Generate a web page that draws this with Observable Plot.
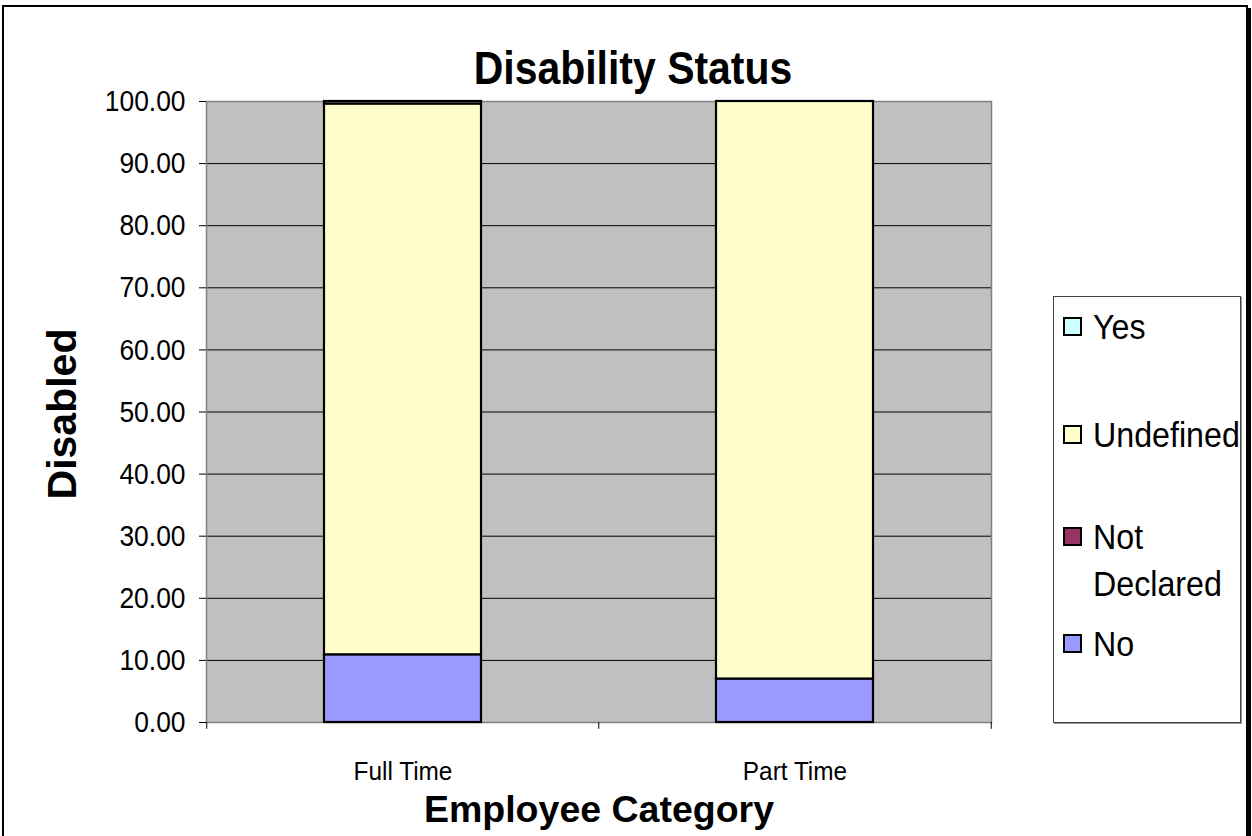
<!DOCTYPE html>
<html>
<head>
<meta charset="utf-8">
<script src="https://cdn.jsdelivr.net/npm/d3@7"></script>
<script src="https://cdn.jsdelivr.net/npm/@observablehq/plot@0.6"></script>
<style>
  html, body { margin: 0; padding: 0; background: #fff; }
  #wrap { position: relative; width: 1252px; height: 836px; overflow: hidden; font-family: "Liberation Sans", Arial, sans-serif; }
  #wrap svg { position: absolute; left: 0; top: 0; }
  .abs { position: absolute; white-space: nowrap; line-height: 1; color: #000; }
  #border { position: absolute; left: 2px; top: 5px; width: 1242px; height: 860px; border: 2px solid #000; box-shadow: 3px 3px 0 #000; pointer-events: none; }
  #legend { position: absolute; left: 1053px; top: 296px; width: 186px; height: 425px; border: 1px solid #444; background: #fff; box-shadow: 1px 1px 0 #999; }
  .sw { position: absolute; left: 9px; width: 15px; height: 15px; border: 2px solid #000; }
  .lt { position: absolute; left: 39px; font-size: 35px; line-height: 47px; white-space: nowrap; transform: scaleX(0.92); transform-origin: left center; }
</style>
</head>
<body>
<div id="wrap">
  <div id="border"></div>
</div>
<script>
const categories = ["Full Time", "Part Time"];
const seriesNames = ["No", "Not Declared", "Undefined", "Yes"];
const seriesColors = ["#9999ff", "#993366", "#ffffcc", "#ccffff"];
const noValues = [10.9, 7.0];
const notDeclaredValues = [0, 0];
const undefinedValues = [88.7, 93.0];
const yesValues = [0.4, 0];
const yTicks = [0, 10, 20, 30, 40, 50, 60, 70, 80, 90, 100];
const legendOrder = ["Yes", "Undefined", "Not Declared", "No"];

const valuesBySeries = {
  "No": noValues,
  "Not Declared": notDeclaredValues,
  "Undefined": undefinedValues,
  "Yes": yesValues
};
const data = [];
for (const s of seriesNames) {
  categories.forEach((c, i) => data.push({cat: c, series: s, value: valuesBySeries[s][i]}));
}

const W = 1252, H = 836;
const mL = 206, mR = 1252 - 991, mT = 101, mB = 836 - 722;
const step = (W - mL - mR) / categories.length;

const chart = Plot.plot({
  width: W,
  height: H,
  marginLeft: mL,
  marginRight: mR,
  marginTop: mT,
  marginBottom: mB,
  style: { fontFamily: "'Liberation Sans', Arial, sans-serif", fontSize: "30px", color: "#000", background: "transparent", overflow: "visible" },
  x: { domain: categories, paddingInner: 0.6, paddingOuter: 0.3, label: null },
  y: { domain: [0, 100], label: null },
  color: { domain: seriesNames, range: seriesColors },
  marks: [
    Plot.frame({ fill: "#c0c0c0", stroke: null }),
    Plot.gridY(yTicks, { stroke: "#000", strokeOpacity: 1, strokeWidth: 1 }),
    Plot.frame({ stroke: "#808080", strokeWidth: 1.5 }),
    Plot.barY(data, {
      x: "cat", y: "value", fill: "series", z: "series",
      order: seriesNames,
      stroke: "#000", strokeWidth: 2.2
    }),
    Plot.axisY({ ticks: yTicks, tickFormat: d3.format(".2f"), tickSize: 7, tickPadding: 14, fontSize: 30, stroke: "#000", label: null }),
    Plot.ruleX(categories, { x: d => d, y1: 0, y2: -1.1, dx: -step / 2, stroke: "#000", strokeWidth: 1, clip: false }),
    Plot.ruleX(categories.slice(-1), { x: d => d, y1: 0, y2: -1.1, dx: step / 2, stroke: "#000", strokeWidth: 1, clip: false }),
    Plot.axisX({ tickSize: 0, tickPadding: 39, fontSize: 26.5, label: null })
  ]
});
// narrow the axis tick labels horizontally, like the reference rendering
chart.querySelectorAll('g[aria-label="y-axis tick label"] text, g[aria-label="x-axis tick label"] text').forEach(t => {
  const isY = t.closest('g[aria-label="y-axis tick label"]') !== null;
  const tr = t.getAttribute("transform") || "";
  t.setAttribute("transform", tr + (isY ? " scale(0.88,1)" : " scale(0.92,1)"));
});
const wrap = document.getElementById("wrap");
wrap.insertBefore(chart, wrap.firstChild);

function addText(txt, css) {
  const d = document.createElement("div");
  d.className = "abs";
  d.textContent = txt;
  Object.assign(d.style, css);
  wrap.appendChild(d);
  return d;
}
addText("Disability Status", { left: "633px", top: "45px", fontSize: "46px", fontWeight: "bold", transform: "translateX(-50%) scaleX(0.89)" });
addText("Employee Category", { left: "599px", top: "791px", fontSize: "37.5px", fontWeight: "bold", transform: "translateX(-50%)" });
addText("Disabled", { left: "62px", top: "414px", fontSize: "41px", fontWeight: "bold", transform: "translate(-50%,-50%) rotate(-90deg)" });

// legend
const legend = document.createElement("div");
legend.id = "legend";
wrap.appendChild(legend);
const legendCenters = { "Yes": 29, "Undefined": 137, "Not Declared": 239, "No": 346 };
for (const s of legendOrder) {
  const cy = legendCenters[s];
  const sw = document.createElement("div");
  sw.className = "sw";
  sw.style.top = (cy - 9) + "px";
  sw.style.background = seriesColors[seriesNames.indexOf(s)];
  legend.appendChild(sw);
  const t = document.createElement("div");
  t.className = "lt";
  t.style.top = (cy - 23.5) + "px";
  if (s === "Not Declared") {
    t.innerHTML = "Not<br>Declared";
  } else {
    t.textContent = s;
  }
  legend.appendChild(t);
}
</script>
</body>
</html>
